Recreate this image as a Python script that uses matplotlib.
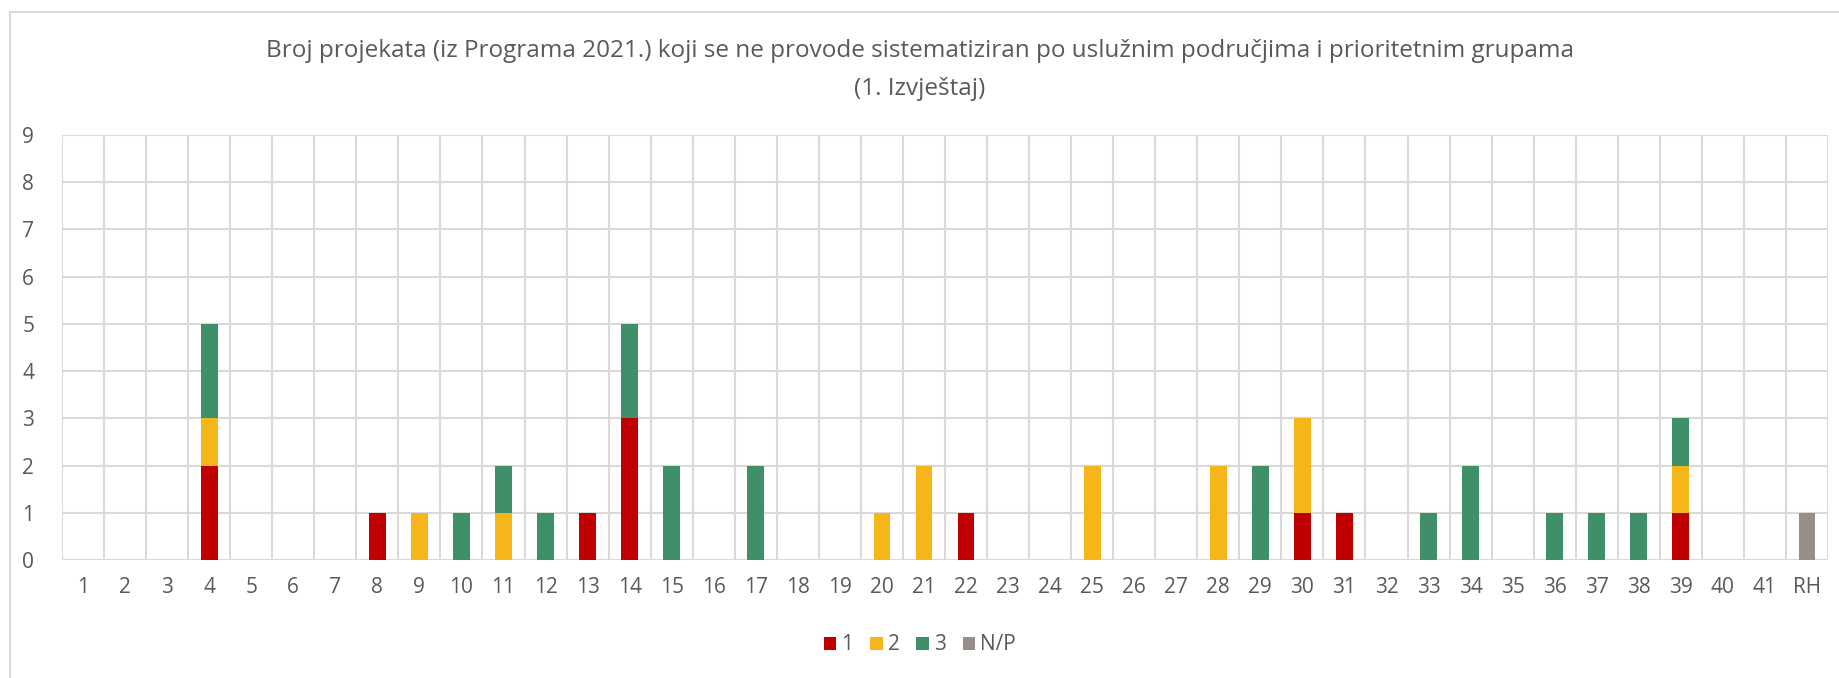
import numpy as np
import matplotlib
matplotlib.use("Agg")
import matplotlib.pyplot as plt
from matplotlib.patches import Rectangle

categories = [str(i) for i in range(1, 42)] + ["RH"]

# values per category (index 0 -> "1", ..., index 41 -> "RH")
s1 = [0, 0, 0, 2, 0, 0, 0, 1, 0, 0, 0, 0, 1, 3, 0, 0, 0, 0, 0, 0, 0,
      1, 0, 0, 0, 0, 0, 0, 0, 1, 1, 0, 0, 0, 0, 0, 0, 0, 1, 0, 0, 0]
s2 = [0, 0, 0, 1, 0, 0, 0, 0, 1, 0, 1, 0, 0, 0, 0, 0, 0, 0, 0, 1, 2,
      0, 0, 0, 2, 0, 0, 2, 0, 2, 0, 0, 0, 0, 0, 0, 0, 0, 1, 0, 0, 0]
s3 = [0, 0, 0, 2, 0, 0, 0, 0, 0, 1, 1, 1, 0, 2, 2, 0, 2, 0, 0, 0, 0,
      0, 0, 0, 0, 0, 0, 0, 2, 0, 0, 0, 1, 2, 0, 1, 1, 1, 1, 0, 0, 0]
snp = [0] * 41 + [1]

series_names = ["1", "2", "3", "N/P"]
colors = ["#C00000", "#F6B619", "#3F8F69", "#978E8B"]

plt.rcParams["font.family"] = ["Open Sans", "DejaVu Sans"]
txt = "#595959"
grid = "#D9D9D9"

fig = plt.figure(figsize=(18.4, 6.78), dpi=100)
ax = fig.add_axes([62 / 1840, 1 - 560 / 678, (1828 - 62) / 1840, (560 - 135) / 678])

x = np.arange(len(categories))
bottom = np.zeros(len(categories))
for name, vals, c in zip(series_names, [s1, s2, s3, snp], colors):
    vals = np.array(vals, dtype=float)
    ax.bar(x, vals, 0.4, bottom=bottom, color=c, label=name, zorder=3)
    bottom += vals

ax.set_xlim(-0.5, len(categories) - 0.5)
ax.set_ylim(0, 9)
ax.set_yticks(range(0, 10))
ax.set_xticks(x)
ax.set_xticklabels(categories)
ax.tick_params(axis="both", length=0, labelsize=15, colors=txt)
ax.tick_params(axis="x", pad=12)
ax.tick_params(axis="y", pad=20)

ax.set_xticks(np.arange(-0.5, len(categories)), minor=True)
ax.tick_params(axis="x", which="minor", length=0)
ax.grid(axis="x", which="minor", color=grid, linewidth=1.5, zorder=0)
ax.grid(axis="y", which="major", color=grid, linewidth=1.5, zorder=0)
ax.grid(axis="x", which="major", visible=False)
for s in ax.spines.values():
    s.set_visible(False)

fig.text(0.5, 1 - 51 / 678, "Broj projekata (iz Programa 2021.) koji se ne provode sistematiziran po uslužnim područjima i prioritetnim grupama",
         ha="center", va="center", fontsize=17.5, color=txt)
fig.text(0.5, 1 - 89 / 678, "(1. Izvještaj)", ha="center", va="center", fontsize=17.5, color=txt)

leg = fig.legend(loc="center", bbox_to_anchor=(0.5, 1 - 645 / 678), ncol=4, frameon=False,
                 fontsize=15, handlelength=0.6, handleheight=0.6, handletextpad=0.25,
                 columnspacing=0.8)
for t in leg.get_texts():
    t.set_color(txt)

fig.patches.append(Rectangle((10 / 1840, -0.1), 1.1, 1 - 12 / 678 + 0.1, transform=fig.transFigure,
                             fill=False, edgecolor=grid, linewidth=1.5))

fig.savefig("out.png", dpi=100)
